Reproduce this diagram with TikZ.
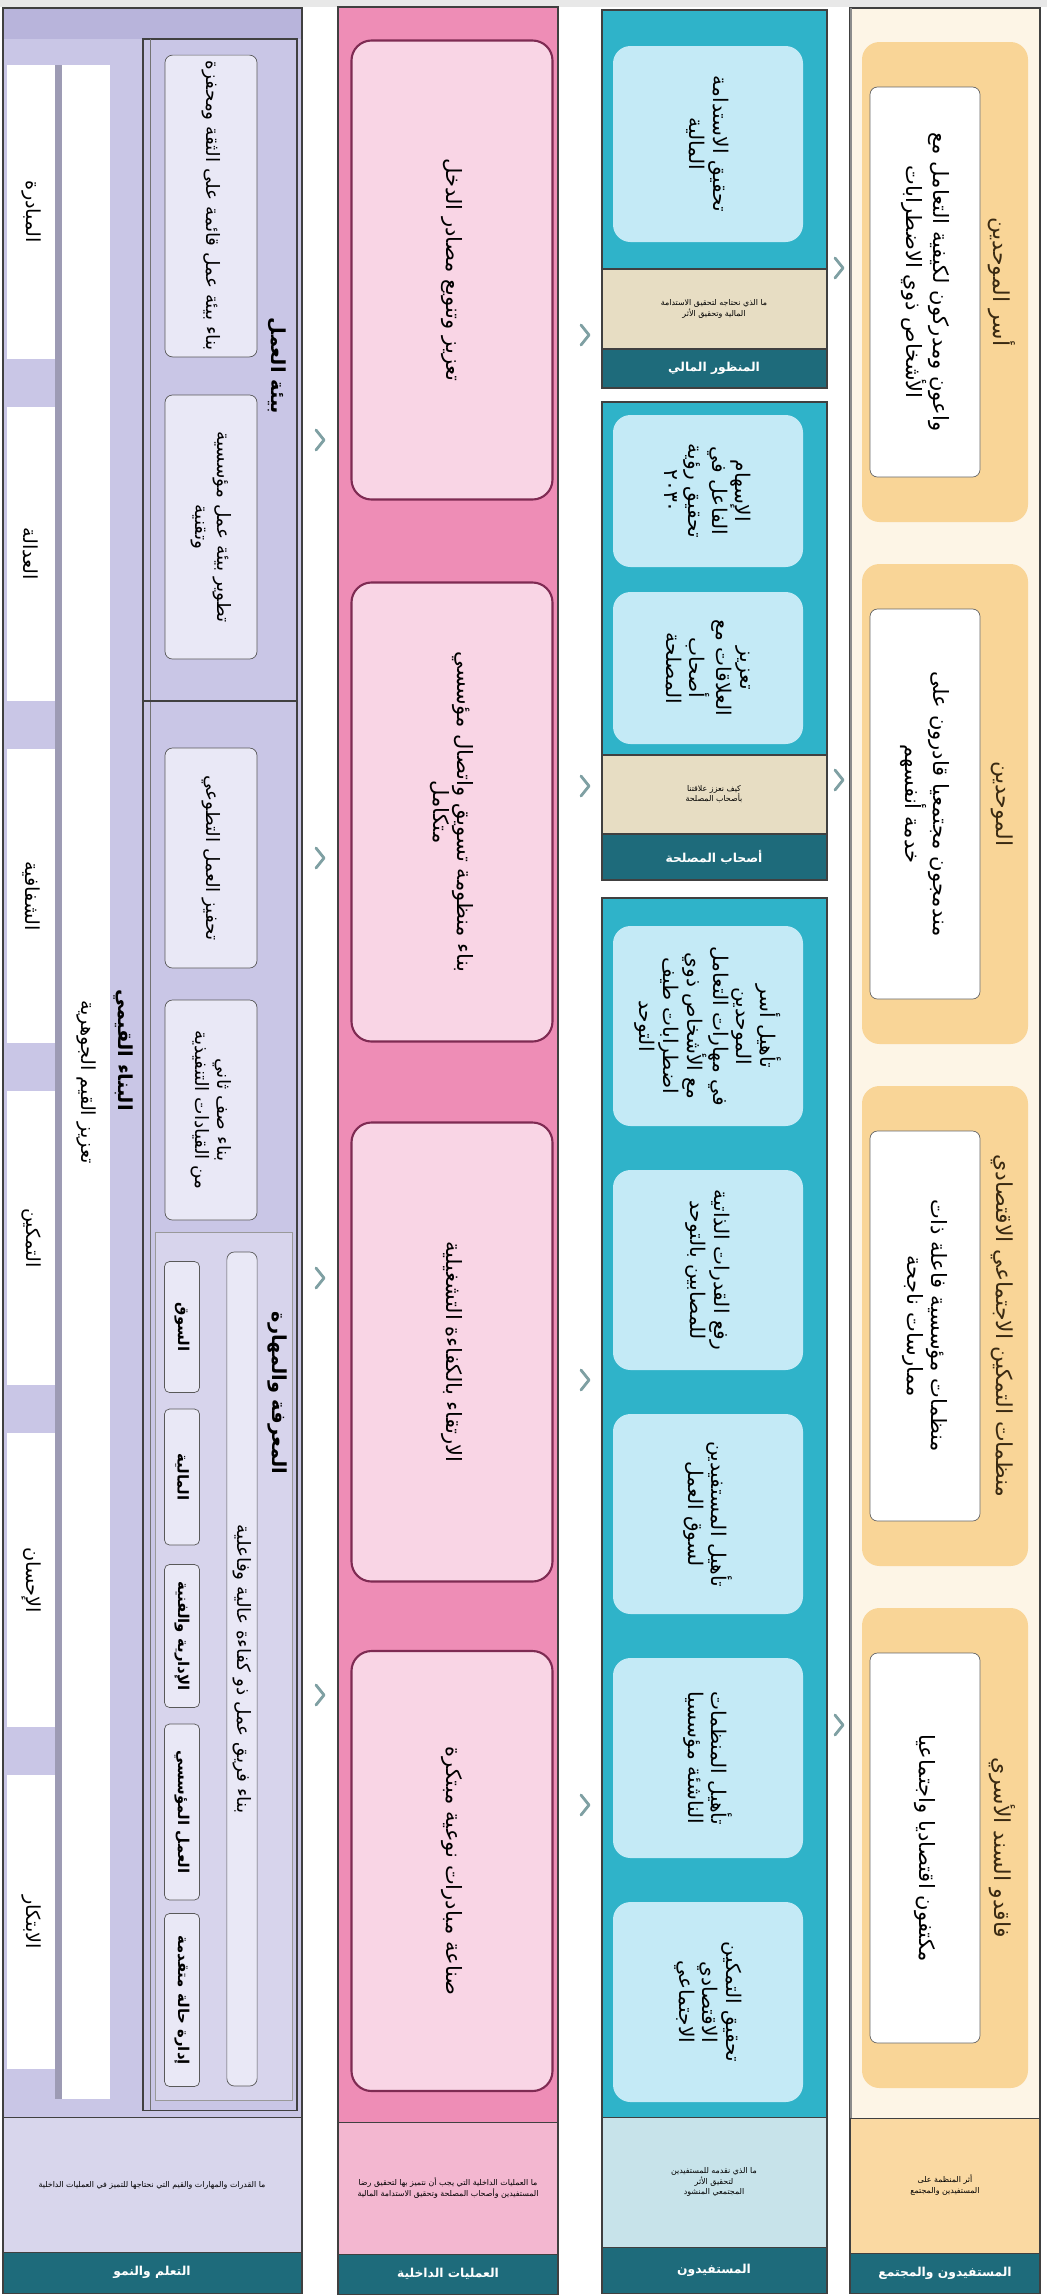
\documentclass[tikz,border=0pt]{standalone}
\usepackage{fontspec}
\newfontfamily\arabicfont[Script=Arabic]{DejaVu Sans}
\TeXXeTstate=1
\newcommand{\ar}[1]{\beginR#1\endR}
\definecolor{orangec}{HTML}{F9D597}
\definecolor{creamc}{HTML}{FDF5E6}
\definecolor{olabc}{HTML}{FAD9A2}
\definecolor{otextc}{HTML}{3A2A12}
\definecolor{bandc}{HTML}{1E6B7B}
\definecolor{tealc}{HTML}{2FB3C9}
\definecolor{tboxc}{HTML}{C4EAF6}
\definecolor{beigec}{HTML}{E7DDC3}
\definecolor{tlabc}{HTML}{C7E3EA}
\definecolor{pinkc}{HTML}{EE8DB6}
\definecolor{pboxc}{HTML}{F9D5E5}
\definecolor{pborc}{HTML}{7F2B53}
\definecolor{plabc}{HTML}{F3B7D0}
\definecolor{lavc}{HTML}{C9C6E6}
\definecolor{lavdc}{HTML}{B8B4DB}
\definecolor{lboxc}{HTML}{E9E8F6}
\definecolor{llabc}{HTML}{D8D6EC}
\definecolor{chevc}{HTML}{7FA0A3}
\tikzset{
	rowbox/.style={draw=black!75, line width=0.6pt},
	tgroup/.style={rowbox, fill=tealc},
	obox/.style={fill=orangec, rounded corners=3.5mm, minimum width=96mm, minimum height=33.2mm},
	otitle/.style={text=otextc, font=\arabicfont\fontsize{12.5}{14}\selectfont},
	wbox/.style={draw=black!60, fill=white, rounded corners=1.5mm, minimum width=78mm, minimum height=22mm,
		align=center, font=\arabicfont\fontsize{12}{14}\selectfont},
	tbox/.style={fill=tboxc, rounded corners=3.5mm, minimum height=38mm, align=center,
		font=\arabicfont\fontsize{11.5}{13.5}\selectfont},
	pbox/.style={draw=pborc, line width=1.2pt, fill=pboxc, rounded corners=4mm, minimum height=40.2mm,
		align=center, font=\arabicfont\fontsize{12}{14}\selectfont},
	vbox/.style={fill=white, minimum width=58.8mm, minimum height=9.6mm, font=\arabicfont\fontsize{11}{13}\selectfont},
	lbox/.style={draw=black!65, fill=lboxc, rounded corners=1.5mm, align=center, minimum height=18.4mm,
		font=\arabicfont\fontsize{10.5}{12.5}\selectfont},
	sbox/.style={draw=black!65, fill=lboxc, rounded corners=1mm, minimum height=7mm,
		font=\arabicfont\bfseries\fontsize{8.5}{10}\selectfont},
	ltitle/.style={font=\arabicfont\bfseries\fontsize{11}{13}\selectfont},
	labtxt/.style={rotate=90, align=center, font=\arabicfont\fontsize{4.5}{6}\selectfont},
	bandtxt/.style={rotate=90, text=white, font=\arabicfont\bfseries\fontsize{7}{8}\selectfont},
	chev/.style={draw=chevc, line width=1.6pt, line cap=round, line join=round}
}
\begin{document}
\begin{tikzpicture}[x=0.2mm, y=0.2mm]
\begin{scope}[rotate=-90, transform shape]
	\useasboundingbox (0,0) rectangle (2296,1047);
	\fill[white] (0,0) rectangle (2296,1047);
	\fill[black!9] (0,0) rectangle (7,1047);

	% beneficiaries row
	\draw[rowbox, fill=creamc] (8,850) rectangle (2293,1040);
	\draw[black!45, line width=1.2pt] (8,851) -- (2118,851);
	\draw[rowbox, fill=olabc] (2118,850) rectangle (2253,1040);
	\draw[rowbox, fill=bandc] (2253,850) rectangle (2293,1040);
	\node[obox] (o1) at (282,945) {};
	\node[obox] (o2) at (804,945) {};
	\node[obox] (o3) at (1326,945) {};
	\node[obox] (o4) at (1848,945) {};
	\node[otitle] (o1t) at (282,1002) {\ar{أسر الموحدين}};
	\node[otitle] (o2t) at (804,1002) {\ar{الموحدين}};
	\node[otitle] (o3t) at (1326,1002) {\ar{منظمات التمكين الاجتماعي الاقتصادي}};
	\node[otitle] (o4t) at (1848,1002) {\ar{فاقدو السند الأسري}};
	\node[wbox] (o1w) at (282,925) {\ar{واعون ومدركون لكيفية التعامل مع}\\\ar{الأشخاص ذوي الاضطرابات}};
	\node[wbox] (o2w) at (804,925) {\ar{مندمجون مجتمعيا قادرون على}\\\ar{خدمة أنفسهم}};
	\node[wbox] (o3w) at (1326,925) {\ar{منظمات مؤسسية فاعلة ذات}\\\ar{ممارسات ناجحة}};
	\node[wbox] (o4w) at (1848,925) {\ar{مكتفون اقتصاديا واجتماعيا}};
	\node[labtxt] (olab) at (2185,945) {\ar{أثر المنظمة على}\\\ar{المستفيدين والمجتمع}};
	\node[bandtxt] (oband) at (2273,945) {\ar{المستفيدون والمجتمع}};

	% stakeholders row
	\draw[tgroup] (10,602) rectangle (388,827);
	\draw[rowbox, fill=beigec] (269,602) rectangle (349,827);
	\draw[rowbox, fill=bandc] (349,602) rectangle (388,827);
	\draw[tgroup] (402,602) rectangle (880,827);
	\draw[rowbox, fill=beigec] (755,602) rectangle (834,827);
	\draw[rowbox, fill=bandc] (834,602) rectangle (880,827);
	\draw[tgroup] (898,602) rectangle (2293,827);
	\draw[rowbox, fill=tlabc] (2117,602) rectangle (2247,827);
	\draw[rowbox, fill=bandc] (2247,602) rectangle (2293,827);
	\node[tbox, minimum width=39.2mm] (t1) at (144,708) {\ar{تحقيق الاستدامة}\\\ar{المالية}};
	\node[tbox, minimum width=30.4mm] (t2) at (491,708) {\ar{الإسهام}\\\ar{الفاعل في}\\\ar{تحقيق رؤية}\\٢٠٣٠};
	\node[tbox, minimum width=30.4mm] (t3) at (668,708) {\ar{تعزيز}\\\ar{العلاقات مع}\\\ar{أصحاب}\\\ar{المصلحة}};
	\node[tbox, minimum width=40mm] (t4) at (1026,708) {\ar{تأهيل أسر}\\\ar{الموحدين}\\\ar{في مهارات التعامل}\\\ar{مع الأشخاص ذوي}\\\ar{اضطرابات طيف}\\\ar{التوحد}};
	\node[tbox, minimum width=40mm] (t5) at (1270,708) {\ar{رفع القدرات الذاتية}\\\ar{للمصابين بالتوحد}};
	\node[tbox, minimum width=40mm] (t6) at (1514,708) {\ar{تأهيل المستفيدين}\\\ar{لسوق العمل}};
	\node[tbox, minimum width=40mm] (t7) at (1758,708) {\ar{تأهيل المنظمات}\\\ar{الناشئة مؤسسيا}};
	\node[tbox, minimum width=40mm] (t8) at (2002,708) {\ar{تحقيق التمكين}\\\ar{الاقتصادي}\\\ar{الاجتماعي}};
	\node[labtxt] (t1lab) at (309,714) {\ar{ما الذي نحتاجه لتحقيق الاستدامة}\\\ar{المالية وتحقيق الأثر}};
	\node[bandtxt] (t1band) at (368,714) {\ar{المنظور المالي}};
	\node[labtxt] (t2lab) at (794,714) {\ar{كيف نعزز علاقتنا}\\\ar{بأصحاب المصلحة}};
	\node[bandtxt] (t2band) at (857,714) {\ar{أصحاب المصلحة}};
	\node[labtxt] (t3lab) at (2182,714) {\ar{ما الذي نقدمه للمستفيدين}\\\ar{لتحقيق الأثر}\\\ar{المجتمعي المنشود}};
	\node[bandtxt] (t3band) at (2270,714) {\ar{المستفيدون}};

	% internal processes row
	\draw[rowbox, fill=pinkc] (7,338) rectangle (2294,558);
	\draw[rowbox, fill=plabc] (2122,338) rectangle (2254,558);
	\draw[rowbox, fill=bandc] (2254,338) rectangle (2294,558);
	\node[pbox, minimum width=91.8mm] (p1) at (270,452) {\ar{تعزيز وتنويع مصادر الدخل}};
	\node[pbox, minimum width=91.8mm] (p2) at (812,452) {\ar{بناء منظومة تسويق واتصال مؤسسي}\\\ar{متكامل}};
	\node[pbox, minimum width=91.8mm] (p3) at (1352,452) {\ar{الارتقاء بالكفاءة التشغيلية}};
	\node[pbox, minimum width=88mm] (p4) at (1871,452) {\ar{صناعة مبادرات نوعية مبتكرة}};
	\node[labtxt] (plab) at (2188,448) {\ar{ما العمليات الداخلية التي يجب أن نتميز بها لتحقيق رضا}\\\ar{المستفيدين وأصحاب المصلحة وتحقيق الاستدامة المالية}};
	\node[bandtxt] (pband) at (2274,448) {\ar{العمليات الداخلية}};

	% learning and growth row
	\draw[rowbox, fill=lavc] (8,3) rectangle (2293,302);
	\fill[lavdc] (9,4) rectangle (39,301);
	\fill[black!22!lavc] (65,55) rectangle (2099,62);
	\node[vbox] (v1) at (212,31) {\ar{المبادرة}};
	\node[vbox] (v2) at (554,31) {\ar{العدالة}};
	\node[vbox] (v3) at (896,31) {\ar{الشفافية}};
	\node[vbox] (v4) at (1238,31) {\ar{التمكين}};
	\node[vbox] (v5) at (1580,31) {\ar{الإحسان}};
	\node[vbox] (v6) at (1922,31) {\ar{الابتكار}};
	\node[vbox, minimum width=406.8mm] (vbar) at (1082,86) {\ar{تعزيز القيم الجوهرية}};
	\node[ltitle] (vtitle) at (1050,123) {\ar{البناء القيمي}};
	\draw[rowbox, fill=lavc] (39,143) rectangle (2110,297);
	\draw[black!55] (39,150) -- (2110,150);
	\draw[rowbox] (701,143) -- (701,297);
	\draw[draw=black!40, fill=lavc!75!white] (1232,155) rectangle (2100,292);
	\node[lbox, minimum width=57.2mm] (l1) at (206,211) {\ar{بناء بيئة عمل قائمة على الثقة ومحفزة}};
	\node[lbox, minimum width=52.8mm] (l2) at (527,211) {\ar{تطوير بيئة عمل مؤسسية}\\\ar{وتقنية}};
	\node[ltitle] (l12t) at (366,277) {\ar{بيئة العمل}};
	\node[lbox, minimum width=44mm] (l3) at (858,211) {\ar{تحفيز العمل التطوعي}};
	\node[lbox, minimum width=44mm] (l4) at (1110,211) {\ar{بناء صف ثاني}\\\ar{من القيادات التنفيذية}};
	\node[ltitle] (kt) at (1393,277) {\ar{المعرفة والمهارة}};
	\node[lbox, minimum width=166.8mm, minimum height=6mm] (k0) at (1669,242) {\ar{بناء فريق عمل ذو كفاءة عالية وفاعلية}};
	\node[sbox, minimum width=26.2mm] (k1) at (1327,182) {\ar{السوق}};
	\node[sbox, minimum width=27.2mm] (k2) at (1477,182) {\ar{المالية}};
	\node[sbox, minimum width=28.6mm] (k3) at (1636,182) {\ar{الإدارية والفنية}};
	\node[sbox, minimum width=35.2mm] (k4) at (1812,182) {\ar{العمل المؤسسي}};
	\node[sbox, minimum width=34.6mm] (k5) at (2000,182) {\ar{إدارة حالة متقدمة}};
	\draw[rowbox, fill=llabc] (2117,3) rectangle (2252,302);
	\draw[rowbox, fill=bandc] (2252,3) rectangle (2293,302);
	\node[labtxt] (llab) at (2185,152) {\ar{ما القدرات والمهارات والقيم التي نحتاجها للتميز في العمليات الداخلية}};
	\node[bandtxt] (lband) at (2272,152) {\ar{التعلم والنمو}};

	% links between rows
	\draw[chev] (430,316) -- (440,324) -- (450,316);
	\draw[chev] (848,316) -- (858,324) -- (868,316);
	\draw[chev] (1268,316) -- (1278,324) -- (1288,316);
	\draw[chev] (1685,316) -- (1695,324) -- (1705,316);
	\draw[chev] (325,581) -- (335,589) -- (345,581);
	\draw[chev] (776,581) -- (786,589) -- (796,581);
	\draw[chev] (1370,581) -- (1380,589) -- (1390,581);
	\draw[chev] (1795,581) -- (1805,589) -- (1815,581);
	\draw[chev] (258,835) -- (268,843) -- (278,835);
	\draw[chev] (770,835) -- (780,843) -- (790,835);
	\draw[chev] (1715,835) -- (1725,843) -- (1735,835);
\end{scope}
\end{tikzpicture}
\end{document}
